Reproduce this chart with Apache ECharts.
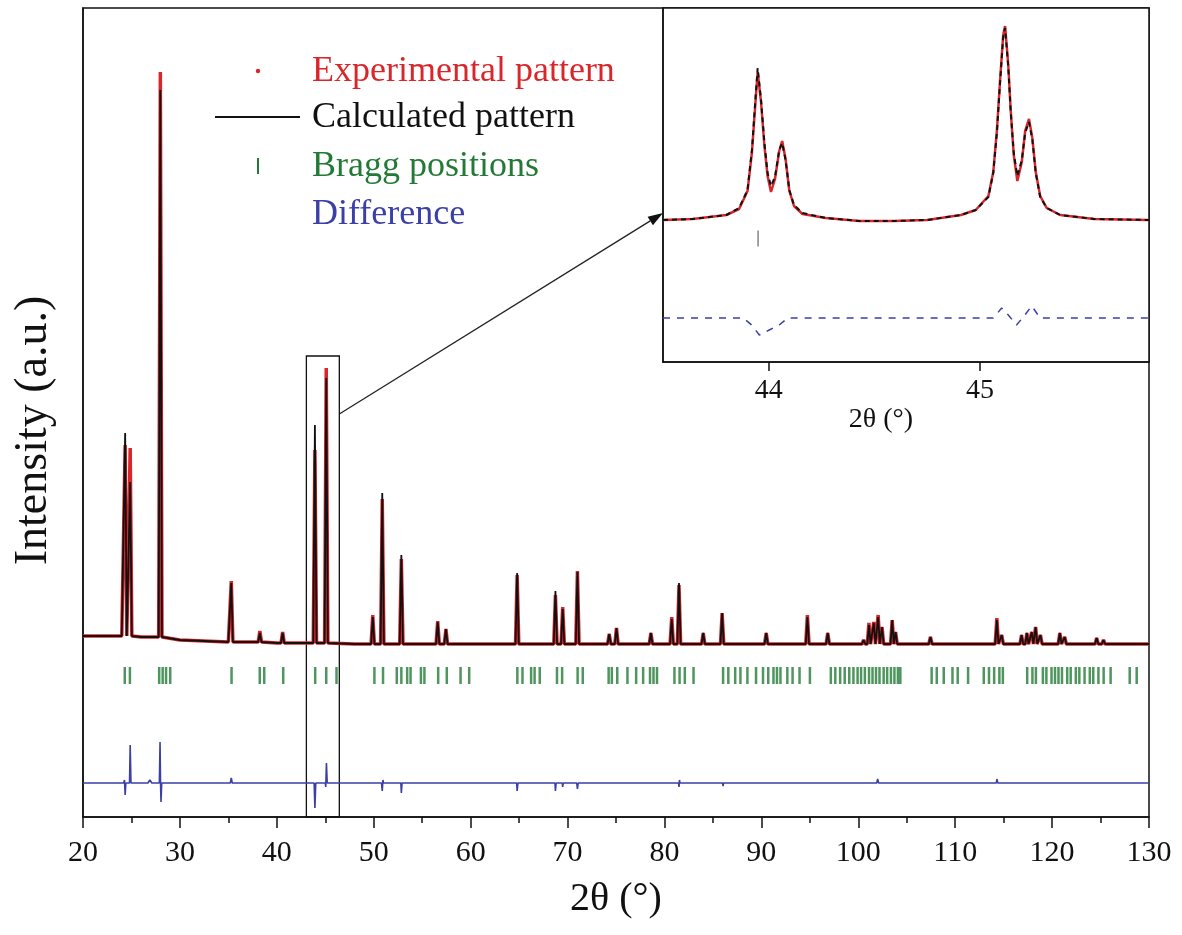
<!DOCTYPE html>
<html>
<head>
<meta charset="utf-8">
<title>Rietveld refinement</title>
<script src="https://cdn.jsdelivr.net/npm/echarts@6/dist/echarts.min.js"></script>
<style>
  html, body { margin: 0; padding: 0; background: #fff; }
  #chart { width: 1182px; height: 935px; }
</style>
</head>
<body>
<div id="chart"></div>
<script>
// ---- main pattern (intensity in a.u.) ----
const background = [[20, 181], [24, 181], [26, 180], [30, 177], [35, 175], [40, 174], [48, 173], [130, 173]];
const peakPos  = [24.35, 24.87, 27.98, 35.3, 38.25, 40.6, 43.93, 45.1, 49.9, 50.88, 52.85, 56.6, 57.45, 64.8, 68.75, 69.5, 71.02, 74.3, 75.05, 78.6, 80.75, 81.5, 84.0, 85.95, 90.5, 94.75, 96.85, 100.55, 101.1, 101.6, 102.05, 102.45, 103.5, 103.85, 107.45, 114.3, 114.8, 116.85, 117.4, 117.9, 118.3, 118.8, 120.8, 121.3, 124.6, 125.3];
const peakCalc = [384, 335, 727, 234, 184, 184, 392, 439, 200, 324, 262, 195, 188, 244, 226, 208, 245, 183, 189, 184, 198, 234, 184, 204, 184, 200, 184, 177, 192, 194, 200, 190, 197, 185, 180, 197, 182, 182, 184, 185, 190, 182, 184, 180, 179, 177];
const peakObs  = [372, 369, 745, 236, 186, 185, 367, 449, 202, 318, 258, 196, 188, 242, 222, 210, 246, 183, 189, 184, 200, 232, 184, 204, 184, 202, 184, 177, 194, 195, 202, 190, 197, 185, 180, 199, 182, 182, 184, 185, 190, 182, 184, 180, 179, 177];

const braggPos = [24.31, 24.84, 27.86, 28.22, 28.57, 29.0, 35.33, 38.24, 38.7, 40.66, 43.96, 45.1, 46.16,
  50.07, 50.96, 52.38, 52.85, 53.45, 53.8, 54.87, 55.23, 56.65, 57.54, 58.96, 59.85,
  64.82, 65.35, 66.24, 66.6, 67.13, 68.91, 69.44, 71.04, 71.57, 74.24, 74.57, 75.13,
  76.18, 77.08, 77.8, 78.51, 78.87, 79.23, 81.03, 81.56, 82.1, 83.0,
  86.05, 86.59, 87.3, 87.84, 88.56, 89.45, 90.17, 90.71, 91.25, 91.61, 91.97, 92.68, 93.22, 93.94, 95.01,
  97.17, 97.63, 98.13, 98.6, 99.07, 99.5, 99.93, 100.29, 100.68, 101.11, 101.47, 101.83, 102.19, 102.62, 102.98, 103.37, 103.73, 104.09, 104.34,
  107.57, 108.1, 108.82, 109.72, 110.26, 111.33, 112.95, 113.49, 114.02, 114.56, 114.92,
  117.43, 117.97, 118.33, 119.05, 119.41, 119.94, 120.3, 120.66, 121.02, 121.56, 121.92, 122.45, 122.81, 123.35, 123.89, 124.25, 124.78, 125.32, 126.04,
  128.01, 128.73];

// difference (obs - calc)
const diffPoints = [[20, 0], [24.2, 0], [24.28, 3], [24.35, -12], [24.42, 0], [24.8, 0], [24.87, 38], [24.95, 0],
  [26.7, 0], [26.9, 3], [27.1, 0], [27.88, 0], [27.95, 41], [28.0, 0], [28.05, -19], [28.12, 0],
  [35.2, 0], [35.3, 5], [35.4, 0], [43.85, 0], [43.93, -25], [44.02, 0], [45.0, 0], [45.05, -4], [45.12, 20], [45.2, 0],
  [50.8, 0], [50.88, -8], [50.95, 3], [51.0, 0], [52.8, 0], [52.85, -10], [52.92, 0],
  [64.75, 0], [64.8, -8], [64.88, 0], [68.7, 0], [68.75, -8], [68.82, 0], [69.45, 0], [69.5, -4], [69.55, 0],
  [70.95, 0], [71.02, -6], [71.1, 0], [81.45, 0], [81.5, -4], [81.55, 3], [81.6, 0], [86.0, 0], [86.05, -3], [86.1, 0],
  [101.9, 0], [102.0, 4], [102.1, 0], [114.25, 0], [114.3, 4], [114.4, 0], [130, 0]];

// ---- inset: 43.5 - 45.8 deg ----
const insetX    = [43.5, 43.64, 43.8, 43.86, 43.9, 43.921, 43.937, 43.948, 43.964, 43.98, 43.995, 44.011, 44.03, 44.05, 44.064, 44.08, 44.098, 44.12, 44.16, 44.27, 44.43, 44.59, 44.75, 44.91, 44.98, 45.04, 45.063, 45.08, 45.095, 45.11, 45.119, 45.134, 45.146, 45.16, 45.177, 45.198, 45.214, 45.232, 45.248, 45.264, 45.285, 45.316, 45.38, 45.54, 45.8];
const insetCalc = [142, 143, 147, 154, 172, 212, 262, 294, 262, 219, 189, 176, 185, 212, 219, 202, 172, 157, 149, 144, 141, 141, 142, 147, 152, 165, 189, 229, 279, 325, 334, 295, 249, 209, 186, 202, 229, 240, 222, 189, 165, 154, 147, 143, 142];
const insetObs  = [142, 143, 147, 153, 171, 210, 258, 290, 260, 216, 186, 170, 183, 211, 221, 203, 171, 156, 148, 144, 141, 141, 142, 147, 152, 166, 190, 231, 281, 327, 336, 297, 250, 207, 181, 200, 231, 243, 224, 190, 166, 154, 147, 143, 142];
const insetDiffX = [43.5, 43.88, 43.92, 43.956, 44.003, 44.05, 44.09, 45.03, 45.063, 45.103, 45.134, 45.173, 45.205, 45.245, 45.285, 45.8];
const insetDiff  = [0, 0, -7, -17, -12, -7, 0, 0, 0, 10, 3, -7, 1, 12, 0, 0];
const insetBragg = [43.95];
const insetTicks = [44, 45];

// layout constants
const BRAGG_LEVEL = 141.5;
const DIFF_LEVEL = 34;
const INSET_BRAGG_LEVEL = 123.5;
const INSET_DIFF_LEVEL = 44;
const ZOOM_BOX = [43.05, 46.45, 461];
const HALF_WIDTH = 0.17;

const RED = '#d9262b';
const GREEN = '#237a36';
const BLUE = '#3b3fa6';
const FONT = "'Liberation Serif', 'Times New Roman', serif";

// base under a peak: last background value at or before x
function baseAt(x) {
  let b = background[0][1];
  background.forEach(p => { if (p[0] <= x) b = p[1]; });
  return b;
}

function patternLine(tops) {
  const pts = background.map(p => p.slice());
  peakPos.forEach((x, i) => {
    const b = baseAt(x);
    pts.push([x - HALF_WIDTH, b], [x, tops[i]], [x + HALF_WIDTH, b]);
  });
  return pts.sort((a, b) => a[0] - b[0]);
}

const chart = echarts.init(document.getElementById('chart'), null, { renderer: 'canvas' });

const legendRows = [
  { text: 'Experimental pattern', color: RED, y: 72 },
  { text: 'Calculated pattern', color: '#111', y: 118 },
  { text: 'Bragg positions', color: GREEN, y: 167 },
  { text: 'Difference', color: BLUE, y: 215 }
];

const option = {
  animation: false,
  backgroundColor: '#fff',
  grid: [
    { left: 83, top: 8, width: 1066, height: 809, show: true, borderColor: '#111', borderWidth: 1.5 },
    { left: 663, top: 8, width: 486, height: 354, show: true, backgroundColor: '#fff', borderColor: '#111', borderWidth: 1.5 }
  ],
  xAxis: [
    {
      type: 'value', gridIndex: 0, min: 20, max: 130, interval: 10,
      axisLine: { lineStyle: { color: '#111', width: 1.5 } },
      axisTick: { inside: false, length: 11, lineStyle: { color: '#111', width: 1.5 } },
      minorTick: { show: true, splitNumber: 2, length: 6, lineStyle: { color: '#111', width: 1.5 } },
      splitLine: { show: false },
      axisLabel: { fontSize: 30, fontFamily: FONT, color: '#111', margin: 21 },
      name: '2θ (°)', nameLocation: 'middle', nameGap: 62,
      nameTextStyle: { fontSize: 40, fontFamily: FONT, color: '#111' }
    },
    {
      type: 'value', gridIndex: 1, min: 43.5, max: 45.8,
      axisLine: { lineStyle: { color: '#111', width: 1.5 } },
      axisTick: { inside: false, length: 9, customValues: insetTicks, lineStyle: { color: '#111', width: 1.5 } },
      splitLine: { show: false },
      axisLabel: { customValues: insetTicks, fontSize: 28, fontFamily: FONT, color: '#111', margin: 15 },
      name: '2θ (°)', nameLocation: 'middle', nameGap: 16,
      nameTextStyle: { fontSize: 28, fontFamily: FONT, color: '#111', padding: [0, 50, 0, 0] }
    }
  ],
  yAxis: [
    {
      type: 'value', gridIndex: 0, min: 0, max: 809,
      axisLine: { show: true, lineStyle: { color: '#111', width: 1.5 } },
      axisTick: { show: false }, axisLabel: { show: false }, splitLine: { show: false },
      name: 'Intensity (a.u.)', nameLocation: 'middle', nameGap: 26,
      nameTextStyle: { fontSize: 46, fontFamily: FONT, color: '#111', padding: [0, 36, 0, 0] }
    },
    {
      type: 'value', gridIndex: 1, min: 0, max: 354,
      axisLine: { show: true, lineStyle: { color: '#111', width: 1.5 } },
      axisTick: { show: false }, axisLabel: { show: false }, splitLine: { show: false }
    }
  ],
  series: [
    {
      name: 'Experimental pattern', type: 'line', xAxisIndex: 0, yAxisIndex: 0,
      data: patternLine(peakObs), showSymbol: false,
      lineStyle: { color: RED, width: 3.5 }, z: 2
    },
    {
      name: 'Calculated pattern', type: 'line', xAxisIndex: 0, yAxisIndex: 0,
      data: patternLine(peakCalc), showSymbol: false,
      lineStyle: { color: '#111', width: 1.8 }, z: 3,
      markArea: {
        silent: true,
        itemStyle: { color: 'rgba(0,0,0,0)', borderColor: '#111', borderWidth: 1.3 },
        data: [[{ coord: [ZOOM_BOX[0], 0] }, { coord: [ZOOM_BOX[1], ZOOM_BOX[2]] }]]
      }
    },
    {
      name: 'Bragg positions', type: 'scatter', xAxisIndex: 0, yAxisIndex: 0,
      data: braggPos.map(x => [x, BRAGG_LEVEL]),
      symbol: 'rect', symbolSize: [2.5, 17], itemStyle: { color: GREEN }
    },
    {
      name: 'Difference', type: 'line', xAxisIndex: 0, yAxisIndex: 0,
      data: diffPoints.map(p => [p[0], DIFF_LEVEL + p[1]]), showSymbol: false,
      lineStyle: { color: BLUE, width: 1.6 }
    },
    {
      name: 'Experimental (inset)', type: 'line', xAxisIndex: 1, yAxisIndex: 1,
      data: insetX.map((x, i) => [x, insetObs[i]]), showSymbol: false,
      lineStyle: { color: RED, width: 2.5 }, z: 6
    },
    {
      name: 'Calculated (inset)', type: 'line', xAxisIndex: 1, yAxisIndex: 1,
      data: insetX.map((x, i) => [x, insetCalc[i]]), showSymbol: false,
      lineStyle: { color: '#111', width: 2, type: [5, 4] }, z: 7
    },
    {
      name: 'Bragg (inset)', type: 'scatter', xAxisIndex: 1, yAxisIndex: 1,
      data: insetBragg.map(x => [x, INSET_BRAGG_LEVEL]),
      symbol: 'rect', symbolSize: [1.5, 16], itemStyle: { color: '#666' }, z: 6
    },
    {
      name: 'Difference (inset)', type: 'line', xAxisIndex: 1, yAxisIndex: 1,
      data: insetDiffX.map((x, i) => [x, INSET_DIFF_LEVEL + insetDiff[i]]), showSymbol: false,
      lineStyle: { color: BLUE, width: 1.5, type: [7, 7] }, z: 6
    }
  ],
  graphic: [
    { type: 'circle', shape: { cx: 258, cy: 71, r: 2.2 }, style: { fill: RED } },
    { type: 'line', shape: { x1: 215, y1: 117, x2: 300, y2: 117 }, style: { stroke: '#111', lineWidth: 2 } },
    { type: 'rect', shape: { x: 257, y: 158, width: 2, height: 16 }, style: { fill: GREEN } }
  ].concat(legendRows.map(r => ({
    type: 'text', x: 312, y: r.y,
    style: { text: r.text, fill: r.color, font: '36px ' + FONT, verticalAlign: 'middle', align: 'left' }
  })))
};

chart.setOption(option);

// arrow from the zoom box to the inset
const start = chart.convertToPixel({ gridIndex: 0 }, [ZOOM_BOX[1], 403]);
const end = chart.convertToPixel({ gridIndex: 1 }, [43.5, 149]);
const dx = end[0] - start[0], dy = end[1] - start[1];
const len = Math.sqrt(dx * dx + dy * dy);
const ux = dx / len, uy = dy / len;
const bx = end[0] - ux * 15, by = end[1] - uy * 15;
chart.setOption({
  graphic: option.graphic.concat([
    { type: 'line', shape: { x1: start[0], y1: start[1], x2: bx, y2: by }, style: { stroke: '#222', lineWidth: 1.3 } },
    { type: 'polygon', shape: { points: [end, [bx - uy * 5, by + ux * 5], [bx + uy * 5, by - ux * 5]] }, style: { fill: '#111' } }
  ])
});
</script>
</body>
</html>
